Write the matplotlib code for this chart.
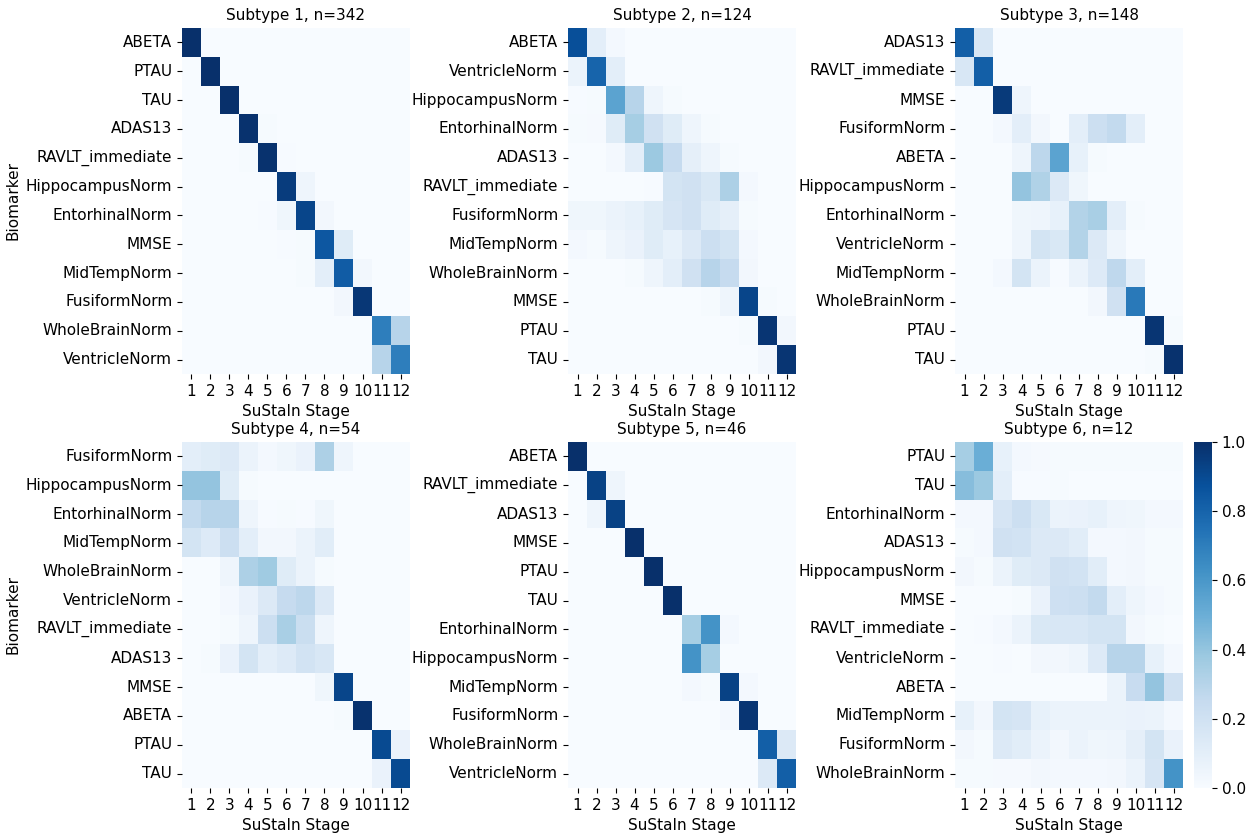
import matplotlib
matplotlib.use("Agg")
import matplotlib.pyplot as plt
import numpy as np
import seaborn as sns

stages = [str(i) for i in range(1, 13)]
titles = ["Subtype 1, n=342", "Subtype 2, n=124", "Subtype 3, n=148",
          "Subtype 4, n=54", "Subtype 5, n=46", "Subtype 6, n=12"]

# biomarker order per subtype (top to bottom)
rows1 = ["ABETA", "PTAU", "TAU", "ADAS13", "RAVLT_immediate", "HippocampusNorm",
         "EntorhinalNorm", "MMSE", "MidTempNorm", "FusiformNorm", "WholeBrainNorm", "VentricleNorm"]
rows2 = ["ABETA", "VentricleNorm", "HippocampusNorm", "EntorhinalNorm", "ADAS13", "RAVLT_immediate",
         "FusiformNorm", "MidTempNorm", "WholeBrainNorm", "MMSE", "PTAU", "TAU"]
rows3 = ["ADAS13", "RAVLT_immediate", "MMSE", "FusiformNorm", "ABETA", "HippocampusNorm",
         "EntorhinalNorm", "VentricleNorm", "MidTempNorm", "WholeBrainNorm", "PTAU", "TAU"]
rows4 = ["FusiformNorm", "HippocampusNorm", "EntorhinalNorm", "MidTempNorm", "WholeBrainNorm",
         "VentricleNorm", "RAVLT_immediate", "ADAS13", "MMSE", "ABETA", "PTAU", "TAU"]
rows5 = ["ABETA", "RAVLT_immediate", "ADAS13", "MMSE", "PTAU", "TAU", "EntorhinalNorm",
         "HippocampusNorm", "MidTempNorm", "FusiformNorm", "WholeBrainNorm", "VentricleNorm"]
rows6 = ["PTAU", "TAU", "EntorhinalNorm", "ADAS13", "HippocampusNorm", "MMSE", "RAVLT_immediate",
         "VentricleNorm", "ABETA", "MidTempNorm", "FusiformNorm", "WholeBrainNorm"]

# positional variance values (rows = biomarkers, cols = stages 1..12)
pvd1 = [
    [1.00, 0, 0, 0, 0, 0, 0, 0, 0, 0, 0, 0],
    [0, 1.00, 0, 0, 0, 0, 0, 0, 0, 0, 0, 0],
    [0, 0, 1.00, 0, 0, 0, 0, 0, 0, 0, 0, 0],
    [0, 0, 0, 0.99, 0.01, 0, 0, 0, 0, 0, 0, 0],
    [0, 0, 0, 0.01, 0.99, 0.005, 0, 0, 0, 0, 0, 0],
    [0, 0, 0, 0, 0, 0.95, 0.05, 0, 0, 0, 0, 0],
    [0, 0, 0, 0, 0.005, 0.04, 0.92, 0.03, 0, 0, 0, 0],
    [0, 0, 0, 0, 0, 0.005, 0.01, 0.85, 0.12, 0, 0, 0],
    [0, 0, 0, 0, 0, 0, 0.01, 0.10, 0.83, 0.03, 0, 0],
    [0, 0, 0, 0, 0, 0, 0, 0, 0.03, 0.97, 0, 0],
    [0, 0, 0, 0, 0, 0, 0, 0, 0, 0, 0.70, 0.30],
    [0, 0, 0, 0, 0, 0, 0, 0, 0, 0, 0.30, 0.70],
]
pvd2 = [
    [0.88, 0.10, 0.02, 0, 0, 0, 0, 0, 0, 0, 0, 0],
    [0.06, 0.80, 0.10, 0, 0, 0, 0, 0, 0, 0, 0, 0],
    [0.005, 0.01, 0.55, 0.30, 0.05, 0.01, 0, 0, 0, 0, 0, 0],
    [0.01, 0.015, 0.12, 0.35, 0.20, 0.12, 0.05, 0.01, 0, 0, 0, 0],
    [0, 0, 0.02, 0.10, 0.38, 0.25, 0.09, 0.05, 0.01, 0, 0, 0],
    [0, 0, 0, 0, 0.005, 0.18, 0.20, 0.15, 0.33, 0.02, 0, 0],
    [0.04, 0.04, 0.06, 0.08, 0.12, 0.17, 0.20, 0.12, 0.09, 0.01, 0, 0],
    [0.02, 0.01, 0.05, 0.07, 0.12, 0.08, 0.14, 0.22, 0.18, 0.02, 0, 0],
    [0, 0, 0, 0.01, 0.05, 0.10, 0.20, 0.30, 0.25, 0.03, 0, 0],
    [0, 0, 0, 0, 0, 0, 0, 0.01, 0.05, 0.92, 0.01, 0],
    [0, 0, 0, 0, 0, 0, 0, 0, 0, 0.01, 0.98, 0.03],
    [0, 0, 0, 0, 0, 0, 0, 0, 0, 0, 0.03, 0.98],
]
pvd3 = [
    [0.82, 0.16, 0, 0, 0, 0, 0, 0, 0, 0, 0, 0],
    [0.16, 0.82, 0, 0, 0, 0, 0, 0, 0, 0, 0, 0],
    [0, 0, 0.96, 0.05, 0, 0, 0, 0, 0, 0, 0, 0],
    [0, 0, 0.02, 0.10, 0.03, 0, 0.10, 0.22, 0.26, 0.10, 0, 0],
    [0, 0, 0, 0.05, 0.28, 0.55, 0.08, 0.01, 0, 0, 0, 0],
    [0, 0, 0, 0.40, 0.32, 0.14, 0.04, 0, 0, 0, 0, 0],
    [0, 0, 0, 0.04, 0.05, 0.08, 0.31, 0.34, 0.10, 0.01, 0, 0],
    [0, 0, 0, 0.05, 0.18, 0.15, 0.31, 0.14, 0.05, 0, 0, 0],
    [0, 0, 0.02, 0.18, 0.06, 0.005, 0.06, 0.13, 0.27, 0.10, 0, 0],
    [0, 0, 0, 0, 0, 0, 0, 0.03, 0.20, 0.72, 0, 0],
    [0, 0, 0, 0, 0, 0, 0, 0, 0, 0, 0.98, 0.01],
    [0, 0, 0, 0, 0, 0, 0, 0, 0, 0, 0.01, 0.99],
]
pvd4 = [
    [0.10, 0.12, 0.14, 0.06, 0.02, 0.04, 0.07, 0.33, 0.05, 0, 0, 0],
    [0.40, 0.40, 0.12, 0.01, 0, 0, 0, 0, 0, 0, 0, 0],
    [0.26, 0.30, 0.30, 0.05, 0.005, 0.01, 0.005, 0.04, 0, 0, 0, 0],
    [0.18, 0.13, 0.22, 0.10, 0.03, 0.03, 0.06, 0.11, 0, 0, 0, 0],
    [0, 0, 0.05, 0.33, 0.37, 0.12, 0.06, 0.01, 0, 0, 0, 0],
    [0, 0, 0.02, 0.07, 0.14, 0.25, 0.28, 0.14, 0, 0, 0, 0],
    [0, 0, 0.01, 0.05, 0.22, 0.34, 0.23, 0.05, 0, 0, 0, 0],
    [0, 0.01, 0.07, 0.18, 0.10, 0.13, 0.19, 0.16, 0, 0, 0, 0],
    [0, 0, 0, 0, 0, 0, 0, 0.04, 0.92, 0, 0, 0],
    [0, 0, 0, 0, 0, 0, 0, 0, 0.01, 0.99, 0, 0],
    [0, 0, 0, 0, 0, 0, 0, 0, 0, 0, 0.90, 0.07],
    [0, 0, 0, 0, 0, 0, 0, 0, 0, 0, 0.07, 0.90],
]
pvd5 = [
    [1.00, 0, 0, 0, 0, 0, 0, 0, 0, 0, 0, 0],
    [0, 0.93, 0.05, 0, 0, 0, 0, 0, 0, 0, 0, 0],
    [0, 0.05, 0.93, 0, 0, 0, 0, 0, 0, 0, 0, 0],
    [0, 0, 0, 1.00, 0, 0, 0, 0, 0, 0, 0, 0],
    [0, 0, 0, 0, 1.00, 0, 0, 0, 0, 0, 0, 0],
    [0, 0, 0, 0, 0, 1.00, 0, 0, 0, 0, 0, 0],
    [0, 0, 0, 0, 0, 0, 0.35, 0.62, 0.02, 0, 0, 0],
    [0, 0, 0, 0, 0, 0, 0.62, 0.35, 0, 0, 0, 0],
    [0, 0, 0, 0, 0, 0, 0.02, 0.01, 0.93, 0.02, 0, 0],
    [0, 0, 0, 0, 0, 0, 0, 0, 0.02, 0.98, 0, 0],
    [0, 0, 0, 0, 0, 0, 0, 0, 0, 0, 0.82, 0.14],
    [0, 0, 0, 0, 0, 0, 0, 0, 0, 0, 0.14, 0.82],
]
pvd6 = [
    [0.35, 0.50, 0.08, 0.02, 0.015, 0.01, 0.01, 0.01, 0.01, 0.01, 0.01, 0.01],
    [0.43, 0.38, 0.10, 0.005, 0.005, 0.01, 0, 0, 0, 0, 0, 0],
    [0.02, 0.02, 0.17, 0.22, 0.15, 0.06, 0.07, 0.08, 0.05, 0.04, 0.02, 0.02],
    [0.01, 0.02, 0.20, 0.19, 0.14, 0.14, 0.11, 0.02, 0.02, 0.03, 0.01, 0.01],
    [0.03, 0.01, 0.06, 0.12, 0.14, 0.20, 0.19, 0.11, 0.02, 0.03, 0.01, 0.01],
    [0, 0, 0, 0.01, 0.07, 0.21, 0.22, 0.26, 0.10, 0.05, 0.02, 0.01],
    [0, 0.005, 0.02, 0.06, 0.15, 0.16, 0.16, 0.18, 0.18, 0.03, 0.01, 0],
    [0, 0, 0.005, 0, 0.03, 0.03, 0.05, 0.13, 0.30, 0.30, 0.08, 0.02],
    [0, 0, 0, 0, 0, 0, 0, 0, 0.06, 0.24, 0.40, 0.20],
    [0.08, 0.03, 0.18, 0.17, 0.08, 0.06, 0.06, 0.06, 0.06, 0.07, 0.06, 0.02],
    [0.03, 0.01, 0.14, 0.11, 0.06, 0.03, 0.06, 0.04, 0.05, 0.09, 0.18, 0.07],
    [0.01, 0.01, 0.015, 0.015, 0.03, 0.02, 0.02, 0.02, 0.03, 0.06, 0.17, 0.62],
]

all_rows = [rows1, rows2, rows3, rows4, rows5, rows6]
all_pvd = [pvd1, pvd2, pvd3, pvd4, pvd5, pvd6]

fig = plt.figure(figsize=(12.55, 8.34), dpi=100)

# axes boxes in figure fractions (left, bottom, width, height)
lefts = [0.1450, 0.4526, 0.7610]
bottoms = [0.5516, 0.0552]
w, h = 0.1817, 0.4149
cax = fig.add_axes([0.9514, 0.0552, 0.0143, 0.4149])

for k in range(6):
    r, c = divmod(k, 3)
    ax = fig.add_axes([lefts[c], bottoms[r], w, h])
    last = (k == 5)
    sns.heatmap(np.array(all_pvd[k]), ax=ax, cmap="Blues", vmin=0, vmax=1,
                xticklabels=stages, yticklabels=all_rows[k],
                cbar=last, cbar_ax=cax if last else None)
    ax.set_title(titles[k], fontsize=11)
    ax.set_xlabel("SuStaIn Stage", fontsize=11)
    if c == 0:
        ax.set_ylabel("Biomarker", fontsize=11)
    ax.tick_params(axis="x", rotation=0, labelsize=11)
    ax.tick_params(axis="y", rotation=0, labelsize=11)

cax.tick_params(labelsize=11)

plt.savefig("out.png", dpi=100)
